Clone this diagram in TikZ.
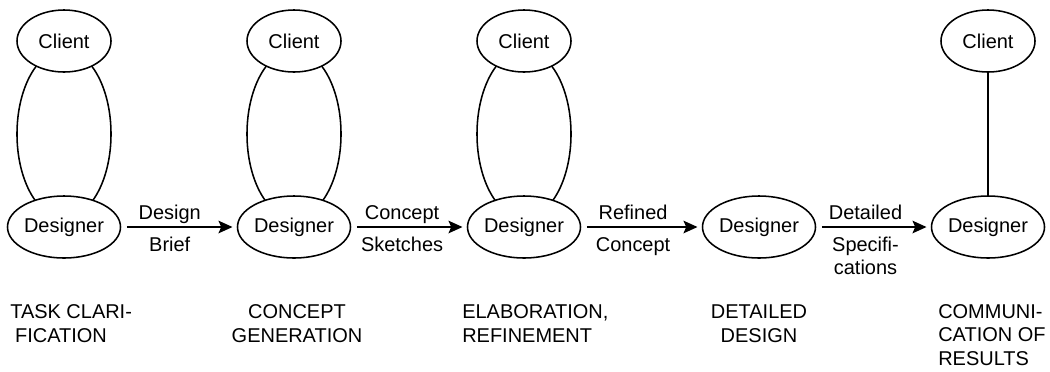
\documentclass[tikz,border=0pt]{standalone}
\usepackage{fontspec}
\setmainfont{Liberation Sans}
\usetikzlibrary{shapes.geometric,arrows.meta}
\tikzset{
  party/.style={draw, ellipse, fill=white, line width=1.1pt, minimum width=2.35cm, minimum height=1.55cm, inner sep=0pt},
  bond/.style={draw, line width=1.1pt},
  flow/.style={line width=1.1pt, -{Stealth[length=10pt,width=9pt,inset=2pt]}, shorten <=4pt, shorten >=3pt},
  lbltop/.style={anchor=base, yshift=0.2cm, inner sep=0pt},
  lblbot/.style={anchor=base, yshift=-0.6cm, inner sep=0pt, align=center},
  stage/.style={inner sep=0pt, anchor=base}
}
\begin{document}
\begin{tikzpicture}[x=0.025cm, y=-0.025cm, font=\fontsize{14.2}{16.7}\selectfont]
\useasboundingbox (0,0) rectangle (1050,371);
% client <-> designer loops
\foreach \x in {64,294,524}
  \draw[bond] (\x,134) ellipse [x radius=1.175cm, y radius=2.1cm];
\node[party] (c1) at (64,41) {Client};
\node[party] (c2) at (294,41) {Client};
\node[party] (c3) at (524,41) {Client};
\node[party] (c5) at (988,41) {Client};
\node[party] (d1) at (64,227) {Designer};
\node[party] (d2) at (294,227) {Designer};
\node[party] (d3) at (524,227) {Designer};
\node[party] (d4) at (759,227) {Designer};
\node[party] (d5) at (988,227) {Designer};
\draw[bond] (c5) -- (d5);
% hand-overs
\draw[flow] (d1) -- node[lbltop, pos=.42] {Design} node[lblbot, pos=.42] {Brief} (d2);
\draw[flow] (d2) -- node[lbltop, pos=.44] {Concept} node[lblbot, pos=.44] {Sketches} (d3);
\draw[flow] (d3) -- node[lbltop, pos=.43] {Refined} node[lblbot, pos=.43] {Concept} (d4);
\draw[flow] (d4) -- node[lbltop, pos=.43] {Detailed} node[lblbot, pos=.43, yshift=-0.5875cm] {Specifi-\\cations} (d5);
% stages (base = last line)
\node[stage, anchor=base west, align=left] (s1) at (10,342) {TASK CLARI-\\\kern3.5pt FICATION};
\node[stage, align=center] (s2) at (297,342) {CONCEPT\\GENERATION};
\node[stage, anchor=base west, align=left] (s3) at (462,342) {ELABORATION,\\REFINEMENT};
\node[stage, align=center] (s4) at (759,342) {DETAILED\\DESIGN};
\node[stage, anchor=base west, align=left] (s5) at (938,365) {COMMUNI-\\CATION OF\\RESULTS};
\end{tikzpicture}
\end{document}
